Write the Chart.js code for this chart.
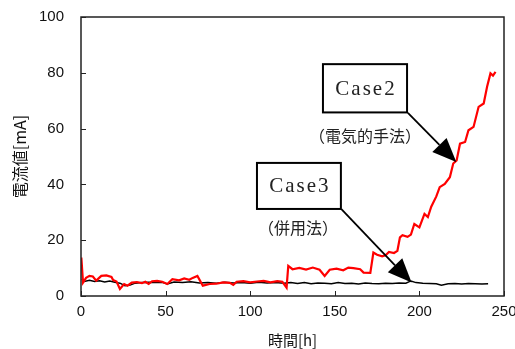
<!DOCTYPE html>
<html>
<head>
<meta charset="utf-8">
<script src="https://cdn.jsdelivr.net/npm/chart.js@4"></script>
<style>
  html, body { margin: 0; padding: 0; background: #fff; }
  #wrap { width: 515px; height: 349px; }
</style>
</head>
<body>
<div id="wrap"><canvas id="grafica"></canvas></div>
<script>
// Case2 (電気的手法) - red
const tiempoCase2 = [0.2, 1.2, 3, 5, 7, 9, 12, 15, 18, 19, 21, 23, 25.5, 27.5, 30, 33, 36, 38, 40, 42, 45, 48, 51, 54, 58, 61, 64, 66, 68.8, 72, 76, 80, 84, 88, 90, 92, 96, 100, 104, 108, 112, 116, 119, 121.5, 122.5, 125, 129, 133, 137, 141, 144, 147, 151, 155, 158, 161, 165, 167, 171, 172.8, 175, 178, 180, 182, 185, 187, 188.5, 190, 193, 195, 197, 200, 203, 205, 207, 210, 212, 215, 218, 220, 222, 224, 227, 229, 232, 235, 238, 240, 242, 243.5, 245];
const valorCase2 = [13.8, 4.8, 6.5, 7.2, 7, 5.5, 7.2, 7.4, 6.8, 5.7, 5.2, 2.5, 4.3, 3.7, 4.8, 5, 4.6, 5.1, 4.3, 5.3, 5.4, 5.1, 4.3, 6, 5.6, 6.3, 5.8, 6.5, 7.2, 3.7, 4.3, 4.4, 4.9, 4.7, 4, 5.1, 5.3, 4.9, 5.2, 5.4, 4.9, 5.3, 5.1, 3, 10.8, 9.6, 10.1, 9.5, 10.2, 9.4, 7.2, 9.4, 9.8, 9.2, 10.2, 10, 9.6, 8.4, 8.3, 15.6, 14.8, 14.2, 14.6, 15.8, 15.4, 16.2, 21, 21.8, 21.2, 22, 25.8, 24.6, 29.4, 28.3, 32, 35.7, 39, 40.2, 42.6, 47.5, 48.6, 54.6, 55.2, 59.4, 60.6, 67.8, 69, 75, 79.8, 79, 80.3];

// Case3 (併用法) - black
const tiempoCase3 = [0.5, 2, 5, 8, 11, 14, 17, 20, 23, 26, 29, 32, 36, 40, 44, 48, 51, 55, 60, 65, 70, 75, 80, 85, 90, 95, 100, 105, 110, 115, 120, 124, 128, 132, 136, 140, 144, 148, 152, 156, 160, 164, 168, 172, 176, 180, 184, 188, 192, 195, 198, 202, 206, 210, 213, 217, 221, 225, 229, 233, 237, 240.6];
const valorCase3 = [6, 5.2, 5.6, 5.2, 5.5, 5.0, 5.4, 4.9, 4.6, 3.7, 3.9, 4.6, 4.8, 4.9, 4.8, 4.9, 4.3, 5.0, 4.8, 5.1, 4.7, 4.8, 4.6, 4.9, 4.7, 4.8, 4.6, 4.9, 4.7, 4.8, 4.6, 4.8, 4.5, 4.8, 4.4, 4.7, 4.6, 4.4, 4.8, 4.5, 4.6, 4.3, 4.7, 4.5, 4.4, 4.6, 4.5, 4.7, 4.6, 5.4, 4.8, 4.6, 4.5, 4.4, 3.9, 4.4, 4.5, 4.3, 4.5, 4.4, 4.3, 4.4];

const ticksX = [0, 50, 100, 150, 200, 250];
const ticksY = [0, 20, 40, 60, 80, 100];

// anotaciones en unidades de datos
const anotaciones = [
  { texto: "Case2", sub: "（電気的手法）", caja: [143, 83.1, 192.7, 65.8], subPos: [167.8, 57.4], flecha: [193.2, 65.6, 221.8, 48.0] },
  { texto: "Case3", sub: "（併用法）", caja: [104, 47.7, 153.6, 31.2], subPos: [128.2, 24.3], flecha: [153.9, 31.1, 195.4, 4.8] }
];

const puntos = (ts, vs) => ts.map((t, i) => ({ x: t, y: vs[i] }));

const pluginMarco = {
  id: 'marco',
  afterDraw(chart) {
    const { ctx, chartArea: a, scales: { x, y } } = chart;
    ctx.save();
    ctx.strokeStyle = '#222';
    ctx.lineWidth = 1.5;
    ctx.strokeRect(a.left, a.top, a.right - a.left, a.bottom - a.top);
    // ticks hacia dentro
    ctx.lineWidth = 1;
    ctx.beginPath();
    ticksY.forEach(v => {
      const py = Math.round(y.getPixelForValue(v)) + 0.5;
      ctx.moveTo(a.left, py); ctx.lineTo(a.left + 5, py);
    });
    ticksX.forEach(v => {
      const px = Math.round(x.getPixelForValue(v)) + 0.5;
      ctx.moveTo(px, a.bottom); ctx.lineTo(px, a.bottom - 5);
    });
    ctx.stroke();

    anotaciones.forEach(an => {
      const [x1, y1, x2, y2] = an.caja;
      const L = x.getPixelForValue(x1), T = y.getPixelForValue(y1);
      const R = x.getPixelForValue(x2), B = y.getPixelForValue(y2);
      ctx.fillStyle = '#fff';
      ctx.fillRect(L, T, R - L, B - T);
      ctx.strokeStyle = '#000';
      ctx.lineWidth = 2;
      ctx.strokeRect(L, T, R - L, B - T);
      ctx.fillStyle = '#222';
      ctx.textAlign = 'center';
      ctx.textBaseline = 'middle';
      ctx.font = '21px "Liberation Serif"';
      ctx.letterSpacing = '2px';
      ctx.fillText(an.texto, (L + R) / 2 + 1, (T + B) / 2 + 1);
      ctx.letterSpacing = '0px';
      ctx.font = '16px "Noto Sans CJK JP"';
      ctx.fillText(an.sub, x.getPixelForValue(an.subPos[0]), y.getPixelForValue(an.subPos[1]));

      const [fx1, fy1, fx2, fy2] = an.flecha;
      const sx = x.getPixelForValue(fx1), sy = y.getPixelForValue(fy1);
      const ex = x.getPixelForValue(fx2), ey = y.getPixelForValue(fy2);
      const ang = Math.atan2(ey - sy, ex - sx);
      const largo = 24, ancho = 10;
      const bx = ex - largo * Math.cos(ang), by = ey - largo * Math.sin(ang);
      ctx.strokeStyle = '#000';
      ctx.lineWidth = 1.8;
      ctx.beginPath();
      ctx.moveTo(sx, sy); ctx.lineTo(bx, by);
      ctx.stroke();
      ctx.fillStyle = '#000';
      ctx.beginPath();
      ctx.moveTo(ex, ey);
      ctx.lineTo(bx + ancho * Math.sin(ang), by - ancho * Math.cos(ang));
      ctx.lineTo(bx - ancho * Math.sin(ang), by + ancho * Math.cos(ang));
      ctx.closePath();
      ctx.fill();
    });
    ctx.restore();
  }
};

const ctx = document.getElementById('grafica').getContext('2d');
new Chart(ctx, {
  type: 'line',
  data: {
    datasets: [
      {
        label: 'Case2',
        data: puntos(tiempoCase2, valorCase2),
        borderColor: '#ff0000',
        borderWidth: 2.2,
        pointRadius: 0,
        tension: 0
      },
      {
        label: 'Case3',
        data: puntos(tiempoCase3, valorCase3),
        borderColor: '#000000',
        borderWidth: 1.5,
        pointRadius: 0,
        tension: 0
      }
    ]
  },
  options: {
    responsive: true,
    maintainAspectRatio: false,
    animation: false,
    layout: { padding: { top: 17, right: 11, left: 0, bottom: 0 } },
    plugins: { legend: { display: false }, tooltip: { enabled: false } },
    scales: {
      x: {
        type: 'linear',
        min: 0, max: 250,
        afterBuildTicks: s => { s.ticks = ticksX.map(v => ({ value: v })); },
        afterFit: s => { s.height = 53; s.paddingLeft = 0; s.paddingRight = 0; },
        grid: { display: false, drawTicks: false },
        border: { display: false },
        ticks: { color: '#111', padding: 7, maxRotation: 0, font: { family: '"Liberation Sans"', size: 15 } },
        title: { display: true, text: '時間[h]', color: '#111', padding: { top: 4, bottom: 0 }, font: { family: '"Noto Sans CJK JP"', size: 15 } }
      },
      y: {
        min: 0, max: 100,
        afterBuildTicks: s => { s.ticks = ticksY.map(v => ({ value: v })); },
        afterFit: s => { s.width = 81; s.paddingTop = 0; s.paddingBottom = 0; },
        grid: { display: false, drawTicks: false },
        border: { display: false },
        ticks: { color: '#111', padding: 17, font: { family: '"Liberation Sans"', size: 15 } },
        title: { display: true, text: '電流値[mA]', color: '#111', padding: { top: 10, bottom: 6 }, font: { family: '"Noto Sans CJK JP"', size: 16 } }
      }
    }
  },
  plugins: [pluginMarco]
});
</script>
</body>
</html>
